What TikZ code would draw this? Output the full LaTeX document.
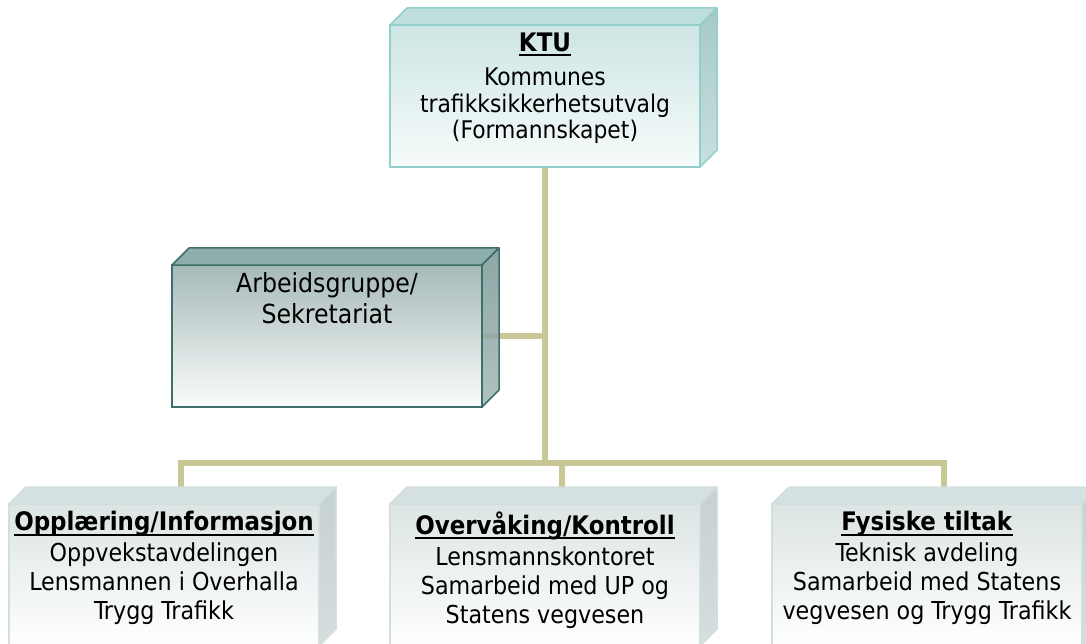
\documentclass[tikz,border=0pt]{standalone}
\usepackage{fontspec}
\setmainfont{DejaVu Sans Condensed}
\usetikzlibrary{calc}
\definecolor{connC}{HTML}{C8C896}
\definecolor{ktuB}{HTML}{92D0CC}
\definecolor{ktuTop}{HTML}{CDE5E4}
\definecolor{ktuBot}{HTML}{F7FBFB}
\definecolor{ktuLid}{HTML}{BFDFDD}
\definecolor{ktuR1}{HTML}{A5C9C7}
\definecolor{ktuR2}{HTML}{C8DFDE}
\definecolor{abB}{HTML}{3F6F6B}
\definecolor{abTop}{HTML}{A6BAB8}
\definecolor{abBot}{HTML}{FAFCFC}
\definecolor{abLid}{HTML}{8DAEAA}
\definecolor{abR1}{HTML}{7A9894}
\definecolor{abR2}{HTML}{A3B8B5}
\definecolor{btB}{HTML}{D3DEDE}
\definecolor{btTop}{HTML}{DCE4E4}
\definecolor{btBot}{HTML}{FFFFFF}
\definecolor{btLid}{HTML}{D5E0E0}
\definecolor{btR1}{HTML}{C6D1D1}
\definecolor{btR2}{HTML}{D6DEDE}
\newsavebox\ulbox
\newcommand\ulb[1]{\sbox\ulbox{\fontsize{25.5}{29.5}\selectfont\textbf{#1}}\rlap{\usebox\ulbox}\rule[-5pt]{\wd\ulbox}{2.2pt}}
% #1 node, #2 lid fill, #3 right top, #4 right bottom, #5 draw, #6 opacity
\newcommand\cubesides[6]{%
  \path[draw=#5, line width=1.5pt, fill=#2, line join=round]
    (#1.north west) -- ++(17,-17) -- ($(#1.north east)+(17,-17)$) -- (#1.north east) -- cycle;
  \path[draw=#5, line width=1.5pt, top color=#3, bottom color=#4, fill opacity=#6, line join=round]
    (#1.north east) -- ++(17,-17) -- ($(#1.south east)+(17,-17)$) -- (#1.south east) -- cycle;}
\begin{document}
\begin{tikzpicture}[x=1pt,y=-1pt,
  face/.style={minimum width=310pt, minimum height=142pt, inner sep=0pt, outer sep=0pt, line width=1.5pt},
  ktuface/.style={face, draw=ktuB, top color=ktuTop, bottom color=ktuBot},
  abface/.style={face, draw=abB, top color=abTop, bottom color=abBot},
  btface/.style={face, draw=btB, top color=btTop, bottom color=btBot},
  ghost/.style={face, opacity=0},
  txt/.style={align=center, inner sep=0pt, anchor=north, text=black},
  link/.style={draw=connC, line width=6pt}
]
\useasboundingbox (0,0) rectangle (1086,644);
\clip (0,0) rectangle (1086,644);

% invisible placeholders used to route the connectors beneath the boxes
\node[ghost] (ktu) at (545,96) {};
\node[ghost] (ab) at (327,336) {};
\node[ghost] (lb) at (164,575) {};
\node[ghost] (mb) at (545,575) {};
\node[ghost] (rb) at (927,575) {};
\coordinate (busM) at (545,463);
\coordinate (lbT) at ($(lb.north)+(17,-17)$);
\coordinate (mbT) at ($(mb.north)+(17,-17)$);
\coordinate (rbT) at ($(rb.north)+(17,-17)$);

% connectors (drawn first)
\draw[link] (ktu.south) -- (busM);
\draw[link] (ab.east) -- (ab.east -| ktu.south);
\draw[link] (lbT) -- (lbT |- busM) -- (rbT |- busM) -- (rbT);
\draw[link] (mbT) -- (mbT |- busM);

% KTU box
\node[ktuface] (ktuF) at (545,96) {};
\cubesides{ktuF}{ktuLid}{ktuR1}{ktuR2}{ktuB}{1}
\node[txt, font=\fontsize{24.3}{26.6}\selectfont] (ktuText) at ([yshift=-7.4pt]ktuF.north)
  {\ulb{KTU}\\[8pt]Kommunes\\trafikksikkerhetsutvalg\\(Formannskapet)};

% Arbeidsgruppe box
\node[abface] (abF) at (327,336) {};
\cubesides{abF}{abLid}{abR1}{abR2}{abB}{0.85}
\node[txt, font=\fontsize{26.3}{31}\selectfont] (abText) at ([yshift=-7.7pt]abF.north) {Arbeidsgruppe/\\Sekretariat};

% bottom boxes
\node[btface] (lbF) at (164,575) {};
\cubesides{lbF}{btLid}{btR1}{btR2}{btB}{1}
\node[txt, font=\fontsize{24.7}{29}\selectfont] (lbText) at ([yshift=-7.3pt]lbF.north)
  {\ulb{Opplæring/Informasjon}\\[2pt]Oppvekstavdelingen\\Lensmannen i Overhalla\\Trygg Trafikk};

\node[btface] (mbF) at (545,575) {};
\cubesides{mbF}{btLid}{btR1}{btR2}{btB}{1}
\node[txt, font=\fontsize{24.7}{29}\selectfont] (mbText) at ([yshift=-7.3pt]mbF.north)
  {\ulb{Overvåking/Kontroll}\\[2pt]Lensmannskontoret\\Samarbeid med UP og\\Statens vegvesen};

\node[btface] (rbF) at (927,575) {};
\cubesides{rbF}{btLid}{btR1}{btR2}{btB}{1}
\node[txt, font=\fontsize{24.7}{29}\selectfont] (rbText) at ([yshift=-7.3pt]rbF.north)
  {\ulb{Fysiske tiltak}\\[2pt]Teknisk avdeling\\Samarbeid med Statens\\vegvesen og Trygg Trafikk};
\end{tikzpicture}
\end{document}
